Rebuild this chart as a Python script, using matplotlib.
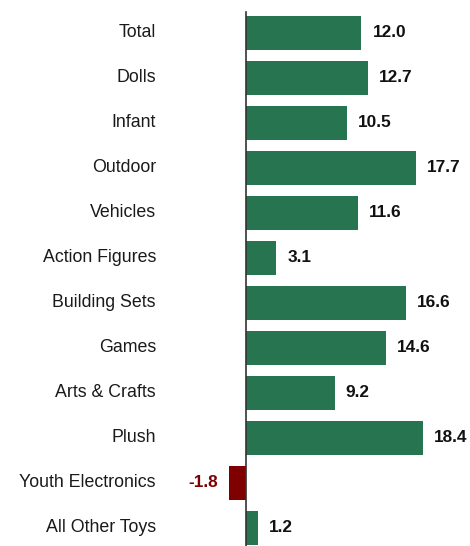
import matplotlib
matplotlib.use("Agg")
import matplotlib.pyplot as plt

categories = ["Total", "Dolls", "Infant", "Outdoor", "Vehicles", "Action Figures",
              "Building Sets", "Games", "Arts & Crafts", "Plush",
              "Youth Electronics", "All Other Toys"]
values = [12.0, 12.7, 10.5, 17.7, 11.6, 3.1, 16.6, 14.6, 9.2, 18.4, -1.8, 1.2]

green = "#277550"
red = "#7f0000"

plt.rcParams['font.family'] = ['Liberation Sans', 'DejaVu Sans']

fig = plt.figure(figsize=(4.7, 5.46), dpi=100)
ax = fig.add_axes([0, 0, 1, 1])

colors = [green if v >= 0 else red for v in values]
ypos = list(range(len(categories)))
ax.barh(ypos, values, height=0.755, color=colors)

ax.set_xlim(-25.73, 23.33)
ax.set_ylim(11.4, -0.733)
ax.axvline(0, ymin=0, ymax=1 - 12 / 546, color="#333333", lw=1.2)

for y, (cat, v) in enumerate(zip(categories, values)):
    ax.annotate(cat, (0, y), xytext=(-90.5, 0), textcoords="offset pixels",
                ha="right", va="center", fontsize=12.8, color="#1a1a1a")
    if v >= 0:
        ax.annotate(f"{v:.1f}", (v, y), xytext=(11, 0), textcoords="offset pixels",
                    ha="left", va="center", fontsize=12.4, fontweight="bold", color="#111111")
    else:
        ax.annotate(f"{v:.1f}", (v, y), xytext=(-11, 0), textcoords="offset pixels",
                    ha="right", va="center", fontsize=12.4, fontweight="bold", color=red)

ax.axis("off")
fig.savefig("out.png", dpi=100)
